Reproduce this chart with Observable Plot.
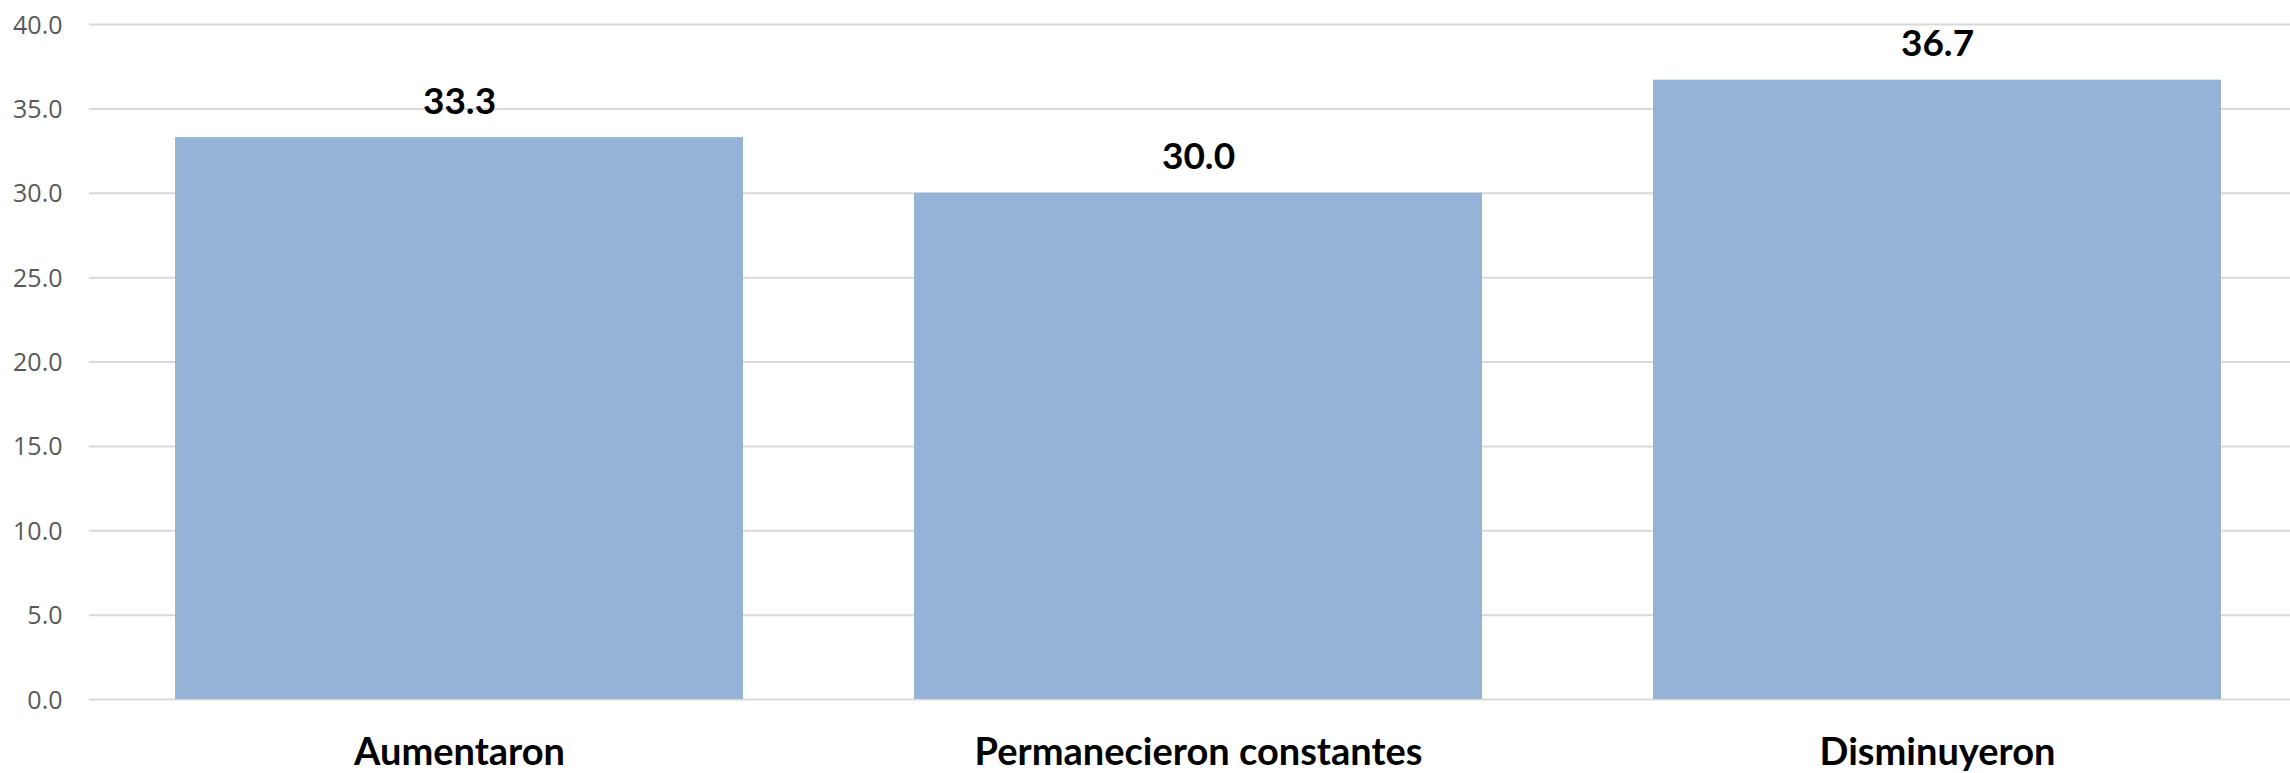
<!DOCTYPE html>
<html>
<head>
<meta charset="utf-8">
<script src="https://cdn.jsdelivr.net/npm/d3@7"></script>
<script src="https://cdn.jsdelivr.net/npm/@observablehq/plot@0.6"></script>
<style>
  html, body { margin: 0; padding: 0; background: #fff; }
  #chart svg { display: block; }
</style>
</head>
<body>
<div id="chart"></div>
<script>
const categories = ["Aumentaron", "Permanecieron constantes", "Disminuyeron"];
const values = [33.3, 30.0, 36.7];
const yTicks = [0, 5, 10, 15, 20, 25, 30, 35, 40];

const data = categories.map((c, i) => ({category: c, value: values[i]}));

const chart = Plot.plot({
  width: 2290,
  height: 773,
  marginLeft: 89,
  marginRight: 0,
  marginTop: 24,
  marginBottom: 74,
  style: {fontFamily: "'Open Sans', sans-serif", background: "#fff"},
  x: {domain: categories, range: [89.25, 2307], paddingInner: 0.232, paddingOuter: 0.116},
  y: {domain: [0, 40], axis: null},
  marks: [
    Plot.gridY(yTicks, {stroke: "#d9d9d9", strokeOpacity: 1, strokeWidth: 2}),
    Plot.barY(data, {x: "category", y: "value", fill: "#95b3d7"}),
    Plot.text(yTicks, {y: d => d, frameAnchor: "left", textAnchor: "end", dx: -27, dy: 1, text: d => d3.format(".1f")(d), fontSize: 25, fill: "#595959", fontFamily: "'Open Sans', sans-serif"}),
    Plot.axisX({tickSize: 0, tickPadding: 39, fontSize: 38, fontWeight: "bold", fill: "#000", label: null, fontFamily: "Lato, sans-serif"}),
    Plot.text(data, {x: "category", y: "value", text: d => d3.format(".1f")(d.value), lineAnchor: "bottom", dy: -24, fontSize: 37, fontWeight: "bold", fill: "#000", fontFamily: "Lato, sans-serif"})
  ]
});
document.getElementById("chart").appendChild(chart);
</script>
</body>
</html>
